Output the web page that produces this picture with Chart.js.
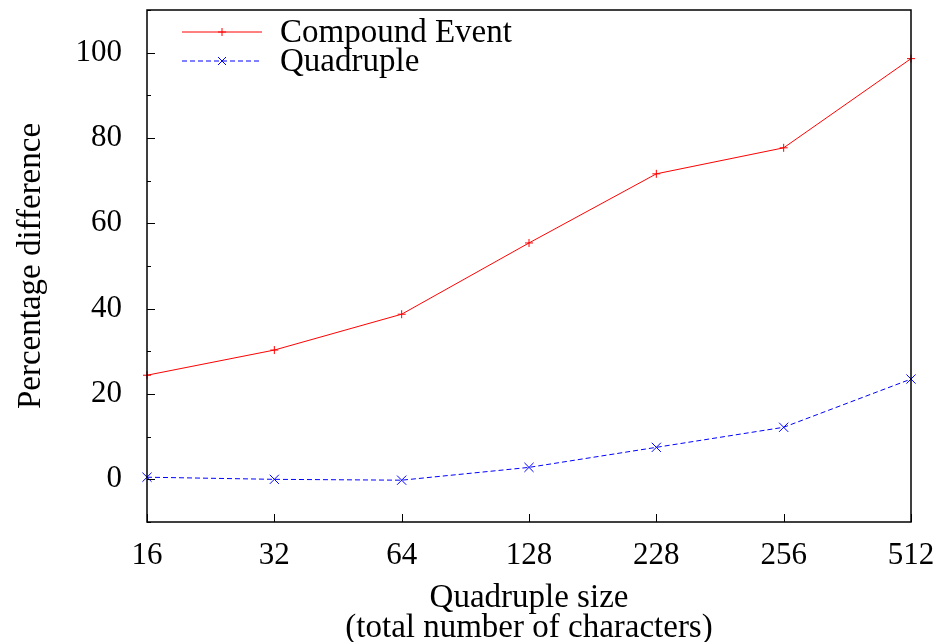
<!DOCTYPE html>
<html><head><meta charset="utf-8">
<script src="https://cdn.jsdelivr.net/npm/chart.js@4"></script>
<style>html,body{margin:0;padding:0;background:#fff}#wrap{width:938px;height:642px}</style>
</head><body><div id="wrap"><canvas id="c" width="938" height="642"></canvas></div>
<script>
const categories = ['16','32','64','128','228','256','512'];
const compoundEvent = [24.4, 30.3, 38.7, 55.4, 71.6, 77.7, 98.6];
const quadruple = [0.5, 0.0, -0.2, 2.8, 7.5, 12.2, 23.5];
const yTickLabels = [0, 20, 40, 60, 80, 100];
const seriesNames = ['Compound Event', 'Quadruple'];

const FONT = 'Liberation Serif';
const FS = 33;
const TFS = 31;

const framePlugin = {
  id: 'frame',
  afterDatasetsDraw(chart) {
    const {ctx, chartArea: a, scales} = chart;
    ctx.save();
    ctx.strokeStyle = '#000';
    ctx.lineWidth = 1.5;
    ctx.strokeRect(a.left, a.top, a.right - a.left, a.bottom - a.top);
    ctx.lineWidth = 1;
    const y = scales.y;
    for (let v = -10; v <= 110; v += 10) {
      const py = Math.round(y.getPixelForValue(v)) + 0.5;
      const len = (v % 20 === 0) ? 8 : 4;
      ctx.beginPath(); ctx.moveTo(a.left, py); ctx.lineTo(a.left + len, py); ctx.stroke();
    }
    const x = scales.x;
    for (let i = 0; i < categories.length; i++) {
      const px = Math.round(x.getPixelForValue(i)) + 0.5;
      ctx.beginPath(); ctx.moveTo(px, a.bottom); ctx.lineTo(px, a.bottom - 8); ctx.stroke();
    }
    const ds = chart.data.datasets;
    const lx0 = a.left + 35, lx1 = a.left + 115, tx = a.left + 133;
    const ys = [a.top + 22, a.top + 51];
    ds.forEach((d, i) => {
      ctx.strokeStyle = d.borderColor;
      ctx.lineWidth = 1;
      ctx.setLineDash(d.borderDash || []);
      ctx.beginPath(); ctx.moveTo(lx0, ys[i]); ctx.lineTo(lx1, ys[i]); ctx.stroke();
      ctx.setLineDash([]);
      const cx = (lx0 + lx1) / 2, r = 4;
      ctx.beginPath();
      if (d.pointStyle === 'cross') {
        ctx.moveTo(cx - r, ys[i]); ctx.lineTo(cx + r, ys[i]);
        ctx.moveTo(cx, ys[i] - r); ctx.lineTo(cx, ys[i] + r);
      } else {
        ctx.moveTo(cx - r, ys[i] - r); ctx.lineTo(cx + r, ys[i] + r);
        ctx.moveTo(cx - r, ys[i] + r); ctx.lineTo(cx + r, ys[i] - r);
      }
      ctx.stroke();
      ctx.fillStyle = '#000';
      ctx.font = FS + 'px "' + FONT + '"';
      ctx.textBaseline = 'alphabetic';
      ctx.textAlign = 'left';
      ctx.fillText(d.label, tx, ys[i] + 10);
    });
    ctx.restore();
  }
};

new Chart(document.getElementById('c'), {
  type: 'line',
  data: {
    labels: categories,
    datasets: [
      {label: seriesNames[0], data: compoundEvent, borderColor: '#ff0000', backgroundColor: '#ff0000',
       borderWidth: 1, pointStyle: 'cross', pointRadius: 4, pointBorderWidth: 1, tension: 0},
      {label: seriesNames[1], data: quadruple, borderColor: '#0000ff', backgroundColor: '#0000ff',
       borderWidth: 1, borderDash: [5, 3], pointStyle: 'crossRot', pointRadius: 6.5, pointBorderWidth: 1, tension: 0}
    ]
  },
  options: {
    responsive: false,
    animation: false,
    layout: {padding: {top: 10, right: 27, left: 0, bottom: 0}},
    plugins: {legend: {display: false}, tooltip: {enabled: false}},
    scales: {
      x: {
        type: 'category', offset: false,
        grid: {display: false}, border: {display: false},
        ticks: {color: '#000', font: {family: FONT, size: TFS}, padding: 7, maxRotation: 0, autoSkip: false},
        title: {display: true, text: ['Quadruple size', '(total number of characters)'], color: '#000',
                font: {family: FONT, size: FS, lineHeight: 0.9}, padding: {top: 4, bottom: -1}},
        afterFit(s) { s.height = 120; s.paddingLeft = 0; s.paddingRight = 0; }
      },
      y: {
        min: -10, max: 110,
        grid: {display: false}, border: {display: false},
        ticks: {color: '#000', font: {family: FONT, size: TFS}, padding: 17, stepSize: 10,
                callback: (v) => yTickLabels.includes(v) ? String(v) : ''},
        title: {display: true, text: 'Percentage difference', color: '#000',
                font: {family: FONT, size: FS}, padding: {top: 12, bottom: 0}},
        afterFit(s) { s.width = 147; s.paddingTop = 0; s.paddingBottom = 0; }
      }
    }
  },
  plugins: [framePlugin]
});
</script></body></html>
